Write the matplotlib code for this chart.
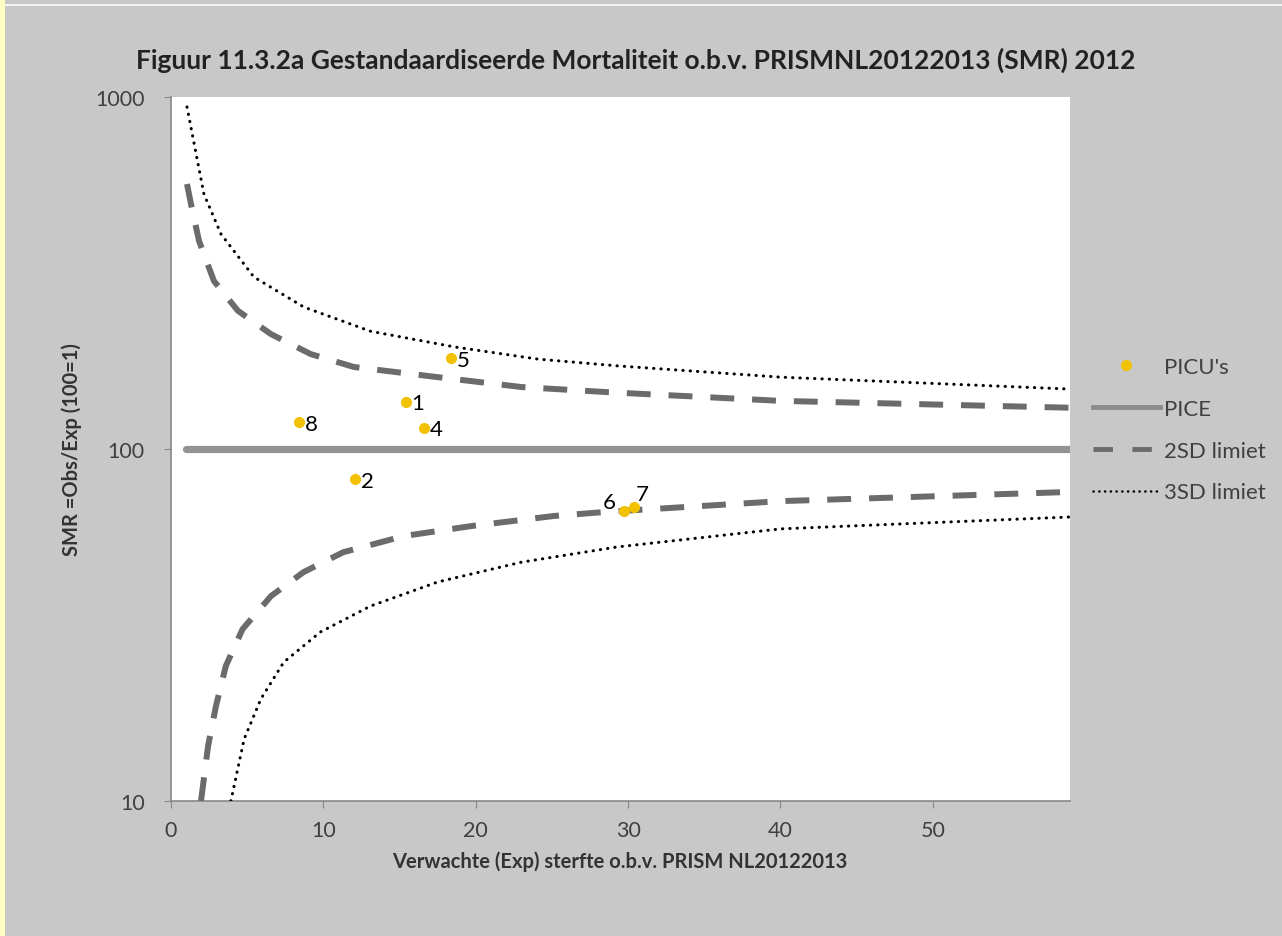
import matplotlib
matplotlib.use("Agg")
import matplotlib.pyplot as plt
from matplotlib.lines import Line2D
from matplotlib.patches import Rectangle

plt.rcParams['font.family'] = ['Lato', 'DejaVu Sans']

# PICU data points
picu_labels = ["1", "2", "4", "5", "6", "7", "8"]
picu_exp = [15.4, 12.1, 16.6, 18.4, 29.7, 30.4, 8.4]
picu_smr = [136, 82, 115, 181, 66.5, 68.5, 119]

# PICE reference line
pice_x = [1, 59]
pice_y = [100, 100]

# 2SD limits
sd2_up_x = [1.05, 1.31, 1.84, 2.82, 4.39, 6.56, 9.18, 12.0, 17.5, 23.0, 28.7, 40, 59]
sd2_up_y = [566, 497, 390, 300, 247, 212, 186, 171, 160, 150, 145, 137, 131]
sd2_lo_x = [1.97, 2.43, 2.95, 3.6, 4.7, 6.56, 8.7, 11.3, 15.3, 19.7, 25.1, 28.4, 40, 59]
sd2_lo_y = [10, 14.3, 18.6, 24.2, 30.8, 38.2, 44.7, 50.9, 56.6, 60.4, 64.5, 66.2, 71.1, 75.5]

# 3SD limits
sd3_up_x = [1.05, 2.16, 3.28, 5.44, 8.72, 13.1, 18.6, 24.1, 29.5, 40, 59]
sd3_up_y = [937, 530, 408, 308, 253, 216, 195, 180, 172, 160, 148]
sd3_lo_x = [3.93, 4.8, 5.9, 7.4, 9.8, 13.1, 17.5, 23.0, 29.3, 40, 59]
sd3_lo_y = [10, 15.0, 19.5, 24.8, 30.2, 35.8, 41.9, 47.7, 52.7, 59.3, 64.1]

x_ticks = [0, 10, 20, 30, 40, 50]
y_ticks = [10, 100, 1000]

W, H = 1282, 937
fig = plt.figure(figsize=(W / 100, H / 100), dpi=100)
fig.patch.set_facecolor('#c8c8c8')

# decorative strips
fig.add_artist(Rectangle((0, 0), 5 / W, 1, transform=fig.transFigure,
                         facecolor='#fffdc0', edgecolor='none'))
fig.add_artist(Rectangle((5 / W, 1 - 7 / H), 1, 2 / H, transform=fig.transFigure,
                         facecolor='#f4f4f4', edgecolor='none'))

ax = fig.add_axes([171 / W, 1 - 802 / H, (1070 - 171) / W, (802 - 98) / H])
ax.set_facecolor('white')
ax.set_yscale('log')
ax.set_xlim(0, 59)
ax.set_ylim(10, 1000)

DASH = (4.0, 3.0)
DOT = (0, (0.1, 2.3))

ax.plot(pice_x, pice_y, color='#939393', lw=5.2, solid_capstyle='round', zorder=2)
ax.plot(sd2_up_x, sd2_up_y, color='#6b6b6b', lw=4.3, dashes=DASH, zorder=3)
ax.plot(sd2_lo_x, sd2_lo_y, color='#6b6b6b', lw=4.3, dashes=DASH, zorder=3)
ax.plot(sd3_up_x, sd3_up_y, color='black', lw=2.2, linestyle=DOT, dash_capstyle='round', zorder=3)
ax.plot(sd3_lo_x, sd3_lo_y, color='black', lw=2.2, linestyle=DOT, dash_capstyle='round', zorder=3)
ax.plot(picu_exp, picu_smr, linestyle='none', marker='o', markersize=7,
        color='#f2c200', markeredgecolor='#f2c200', zorder=4)

offsets = {"6": (-15, 7), "7": (1, 9)}
for lab, x, y in zip(picu_labels, picu_exp, picu_smr):
    dx, dy = offsets.get(lab, (4, -1))
    ax.annotate(lab, (x, y), xytext=(dx, dy), textcoords='offset points',
                ha='left', va='center', fontsize=16, color='black', zorder=5)

ax.set_xticks(x_ticks)
ax.set_xticklabels([str(t) for t in x_ticks])
ax.set_yticks(y_ticks)
ax.set_yticklabels([str(t) for t in y_ticks])
ax.yaxis.set_minor_locator(matplotlib.ticker.NullLocator())
ax.tick_params(axis='both', which='major', direction='out', length=5, color='#888888',
               labelsize=15.5, labelcolor='#404040')
ax.tick_params(axis='x', pad=9)
ax.tick_params(axis='y', pad=14)
for s in ['top', 'right']:
    ax.spines[s].set_visible(False)
for s in ['left', 'bottom']:
    ax.spines[s].set_color('#888888')
    ax.spines[s].set_linewidth(1.2)

fig.text(636 / W, 1 - 60 / H, 'Figuur 11.3.2a Gestandaardiseerde Mortaliteit o.b.v. PRISMNL20122013 (SMR) 2012',
         ha='center', va='center', fontsize=19, fontweight='bold', color='#222222')
fig.text(620 / W, 1 - 862 / H, 'Verwachte (Exp) sterfte o.b.v. PRISM NL20122013',
         ha='center', va='center', fontsize=14.5, fontweight='bold', color='#333333')
fig.text(72 / W, 1 - 450 / H, 'SMR =Obs/Exp (100=1)', rotation=90,
         ha='center', va='center', fontsize=14.5, fontweight='bold', color='#333333')

handles = [
    Line2D([], [], linestyle='none', marker='o', markersize=7, color='#f2c200'),
    Line2D([], [], color='#8c8c8c', lw=3.5),
    Line2D([], [], color='#6b6b6b', lw=3.5, dashes=(4, 4)),
    Line2D([], [], color='black', lw=1.8, linestyle=(0, (0.1, 2.2)), dash_capstyle='round'),
]
labels = ["PICU's", 'PICE', '2SD limiet', '3SD limiet']
fig.legend(handles, labels, loc='upper left', bbox_to_anchor=(1073 / W, 1 - 338 / H),
           frameon=False, fontsize=16, handlelength=3.0, handletextpad=0.2,
           labelspacing=0.98, labelcolor='#404040')

fig.savefig('out.png', dpi=100, facecolor=fig.get_facecolor())
